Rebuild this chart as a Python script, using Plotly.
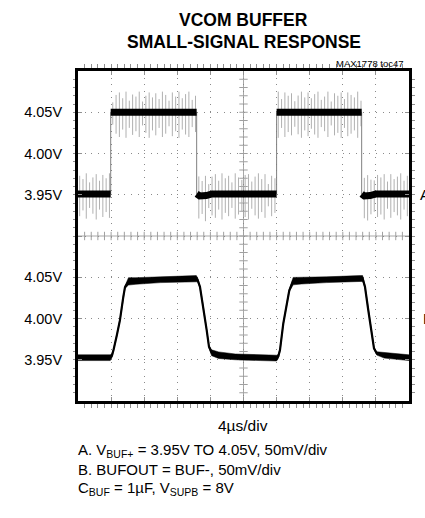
import numpy as np
import plotly.graph_objects as go

# ---- waveform data (time in µs, 4 µs/div, 10 divisions) ----
# Trace A: input step VBUF+, 3.95 V <-> 4.05 V
t_a = [0.0, 3.95, 3.95, 5.8, 6.3, 6.8, 14.34, 14.34, 14.7, 15.5, 16.2,
       24.0, 24.0, 26.0, 26.4, 26.9, 34.28, 34.28, 34.6, 35.3, 36.0, 40.0]
v_a = [3.951, 3.951, 4.050, 4.050, 4.0488, 4.050, 4.050, 3.951, 3.9485, 3.949, 3.951,
       3.951, 4.050, 4.050, 4.0488, 4.050, 4.050, 3.951, 3.9485, 3.949, 3.951, 3.951]

# high-frequency pickup on trace A: spike extents above / below the level (mV)
spike_up = [22, 18, 25, 14, 20, 24, 16, 23, 19, 25, 12, 21, 24, 17, 25, 15, 22, 19, 25, 13,
            20, 24, 18, 23, 16, 25, 21, 14, 24, 19, 25, 17, 22, 25, 15, 20, 23, 18, 24, 13,
            21, 24, 16, 25, 19, 22, 14, 25, 20, 17, 23, 24, 15, 21, 25, 18, 24, 12, 22, 19,
            25, 16, 24, 20, 23, 14, 21, 25, 18, 24, 17, 22, 25, 15, 19, 25, 13, 23, 20, 24,
            16, 24, 21, 18, 25, 14, 22, 25, 19, 17, 23, 20, 24, 15, 24, 18, 21, 25, 16, 22]
spike_dn = [27, 20, 30, 17, 24, 31, 19, 28, 22, 29, 15, 26, 30, 21, 31, 18, 27, 23, 30, 16,
            25, 31, 22, 28, 19, 30, 26, 17, 29, 23, 31, 21, 27, 30, 18, 24, 28, 22, 31, 16,
            26, 29, 19, 31, 23, 27, 17, 30, 25, 21, 28, 31, 18, 26, 30, 22, 29, 15, 27, 23,
            31, 19, 30, 24, 28, 17, 26, 31, 22, 29, 20, 27, 31, 18, 23, 30, 16, 28, 25, 31,
            19, 29, 26, 22, 31, 17, 27, 30, 23, 21, 28, 25, 31, 18, 29, 22, 26, 31, 19, 27]

# Trace B: BUFOUT response
t_b = [0.0, 3.9, 4.1, 4.3, 4.7, 5.07, 5.47, 5.68, 6.1, 7.0,
       10.0, 14.3, 14.45, 14.74, 15.14, 15.55, 15.83, 16.15, 17.0, 19.0,
       22.0, 24.0, 24.2, 24.41, 24.81, 25.21, 25.53, 26.0, 27.0, 30.0,
       34.1, 34.4, 34.68, 35.08, 35.5, 35.77, 36.1, 37.0, 40.0]
v_b = [3.9525, 3.9525, 3.955, 3.962, 3.980, 3.998, 4.026, 4.038, 4.045, 4.0455,
       4.047, 4.0485, 4.047, 4.0384, 4.014, 3.986, 3.9657, 3.9585, 3.9555, 3.9535,
       3.9525, 3.952, 3.954, 3.9617, 3.994, 4.018, 4.034, 4.0453, 4.0458, 4.047,
       4.0485, 4.0485, 4.0384, 4.010, 3.982, 3.9638, 3.9577, 3.9555, 3.9525]
# peak-to-peak ripple band on trace B (mV)
ripple_b = [7, 7, 5, 3, 2, 2, 2, 3, 9, 8,
            7, 7, 5, 2, 2, 2, 3, 7, 8, 7,
            7, 7, 5, 3, 2, 2, 3, 9, 8, 7,
            7, 7, 3, 2, 2, 2, 4, 7, 7]

# axis labels
labels_a = ["3.95V", "4.00V", "4.05V"]
labels_b = ["3.95V", "4.00V", "4.05V"]
ticks_a = [3.95, 4.00, 4.05]
ticks_b = [3.95, 4.00, 4.05]

# ---- geometry ----
W, H = 425, 518
L, R, T, B = 78, 16, 71, 117
PW, PH = W - L - R, H - T - B
FONT = "Liberation Sans, Arial, sans-serif"
TICK_SIZE = 14.5


def pxx(x):
    return (x - L) / PW


def pxy(y):
    return (H - B - y) / PH


fig = go.Figure()

# graticule centre lines with their minor ticks
fig.add_shape(type="line", xref="x", yref="paper", x0=20, x1=20, y0=0, y1=1,
              line=dict(color="#a8a8a8", width=1), layer="below")
fig.add_shape(type="line", xref="x", yref="y", x0=0, x1=40, y0=3.90, y1=3.90,
              line=dict(color="#a8a8a8", width=1), layer="below")
cx = np.arange(0.8, 40.0, 0.8)
fig.add_trace(go.Scatter(x=cx, y=np.full(cx.size, 3.90), mode="markers", hoverinfo="skip",
                         marker=dict(symbol="line-ns", size=6, line=dict(color="#a0a0a0", width=1))))
cy = np.round(np.arange(3.71, 4.10, 0.01), 3)
fig.add_trace(go.Scatter(x=np.full(cy.size, 20.0), y=cy, mode="markers", hoverinfo="skip",
                         marker=dict(symbol="line-ew", size=6, line=dict(color="#a0a0a0", width=1))))

# trace A: noise spikes
ts = np.arange(0.2, 40.0, 0.4)
lvl = np.interp(ts, t_a, v_a)
sx, sy = [], []
for t, lv, u, d in zip(ts, lvl, spike_up, spike_dn):
    sx += [t, t, None]
    sy += [lv - d / 1000.0, lv + u / 1000.0, None]
fig.add_trace(go.Scatter(x=sx, y=sy, mode="lines", hoverinfo="skip",
                         line=dict(color="#b0b0b0", width=1)))

# trace A: thin edges plus the thick settled levels
fig.add_trace(go.Scatter(x=t_a, y=v_a, mode="lines", hoverinfo="skip",
                         line=dict(color="#808080", width=1)))
fx, fy = [], []
for i, (t, v) in enumerate(zip(t_a, v_a)):
    if i > 0 and t == t_a[i - 1]:
        fx.append(None)
        fy.append(None)
    fx.append(t)
    fy.append(v)
fig.add_trace(go.Scatter(x=fx, y=fy, mode="lines", hoverinfo="skip",
                         line=dict(color="black", width=7)))

# trace B: ripple band and centre line, on its own vertical offset
vb = np.array(v_b)
rb = np.array(ripple_b) / 1000.0
fig.add_trace(go.Scatter(x=t_b, y=vb - rb / 2, yaxis="y2", mode="lines", hoverinfo="skip",
                         line=dict(color="black", width=0.5)))
fig.add_trace(go.Scatter(x=t_b, y=vb + rb / 2, yaxis="y2", mode="lines", fill="tonexty",
                         fillcolor="black", hoverinfo="skip", line=dict(color="black", width=0.5)))
fig.add_trace(go.Scatter(x=t_b, y=v_b, yaxis="y2", mode="lines", hoverinfo="skip",
                         line=dict(color="black", width=2.2)))

grid = dict(showgrid=True, gridcolor="#8a8a8a", gridwidth=1, griddash="1px,5.62px")
frame = dict(showline=True, linecolor="black", linewidth=3, mirror="allticks",
             ticks="inside", ticklen=4, tickcolor="#909090", zeroline=False)

div_a = np.round(np.arange(3.70, 4.1001, 0.05), 2)
text_a = [labels_a[ticks_a.index(v)] if v in ticks_a else "" for v in div_a]

fig.update_layout(
    width=W, height=H, margin=dict(l=L, r=R, t=T, b=B),
    paper_bgcolor="white", plot_bgcolor="white", showlegend=False,
    font=dict(family=FONT, color="black", size=TICK_SIZE),
    xaxis=dict(range=[0, 40], tickmode="linear", tick0=0, dtick=4, showticklabels=False,
               minor=dict(dtick=0.8, tick0=0, ticklen=2.5, tickcolor="#909090", showgrid=False),
               **grid, **frame),
    yaxis=dict(range=[3.70, 4.10], tickmode="array", tickvals=div_a, ticktext=text_a,
               ticklabelstandoff=10, tickfont=dict(family=FONT, size=TICK_SIZE),
               minor=dict(dtick=0.01, tick0=3.70, ticklen=2.5, tickcolor="#909090", showgrid=False),
               **grid, **frame),
    yaxis2=dict(range=[3.90, 4.30], overlaying="y", side="left", anchor="x",
                tickmode="array", tickvals=ticks_b, ticktext=labels_b, showgrid=False,
                showline=True, linecolor="black", linewidth=3, ticks="", zeroline=False,
                ticklabelstandoff=10, tickfont=dict(family=FONT, size=TICK_SIZE)),
)

ann = [
    dict(text="<b>VCOM BUFFER</b>", x=0.5, y=pxy(20), size=17.5, xa="center"),
    dict(text="<b>SMALL-SIGNAL RESPONSE</b>", x=0.5, y=pxy(42.5), size=17.5, xa="center"),
    dict(text="MAX1778 toc47", x=pxx(406), y=pxy(63), size=9.5, xa="right"),
    dict(text="4µs/div", x=pxx(242.5), y=pxy(425), size=15.5, xa="center"),
    dict(text="A. V<sub>BUF+</sub> = 3.95V TO 4.05V, 50mV/div", x=pxx(76), y=pxy(450), size=15, xa="left"),
    dict(text="B. BUFOUT = BUF-, 50mV/div", x=pxx(76), y=pxy(469), size=15, xa="left"),
    dict(text="C<sub>BUF</sub> = 1µF, V<sub>SUPB</sub> = 8V", x=pxx(76), y=pxy(488), size=15, xa="left"),
]
for a in ann:
    fig.add_annotation(text=a["text"], xref="paper", yref="paper", x=a["x"], y=a["y"],
                       xanchor=a["xa"], yanchor="middle", showarrow=False,
                       font=dict(family=FONT, size=a["size"], color="black"))

# channel markers at the right of the screen
fig.add_annotation(text="A", xref="paper", yref="y", x=pxx(418), y=3.95, xanchor="left",
                   yanchor="middle", showarrow=False, font=dict(family=FONT, size=15))
fig.add_annotation(text="B", xref="paper", yref="y2", x=pxx(421), y=4.00, xanchor="left",
                   yanchor="middle", showarrow=False, font=dict(family=FONT, size=15))

fig.write_html("out.html")
